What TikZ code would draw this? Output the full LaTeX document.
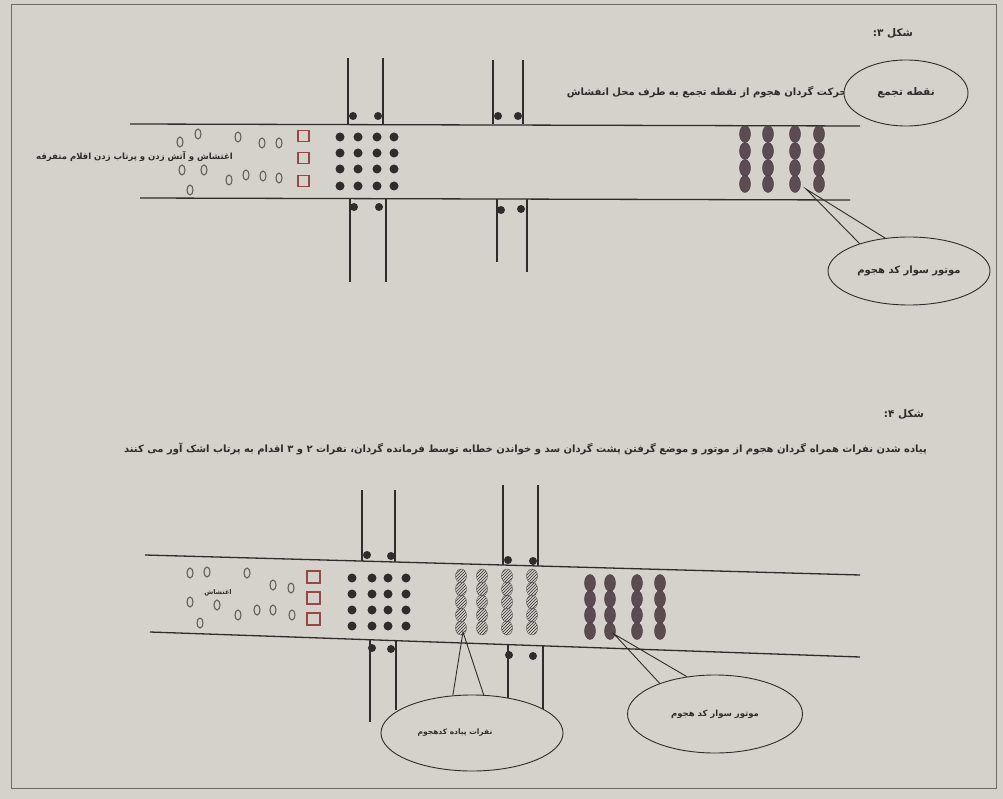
\documentclass[tikz,border=0pt]{standalone}
\usepackage{fontspec}
\newfontfamily\farsi[Script=Arabic]{DejaVu Sans}
\TeXXeTstate=1
\usetikzlibrary{shapes.geometric,patterns}

\definecolor{paper}{RGB}{212,210,202}
\definecolor{ink}{RGB}{48,44,44}
\definecolor{rider}{RGB}{92,76,82}
\definecolor{boxred}{RGB}{150,72,72}

\newcommand{\fa}[1]{{\farsi\bfseries\beginR #1\endR}}

\begin{document}
\begin{tikzpicture}[x=1pt,y=-1pt,
    road/.style={ink, line width=1.3pt},
    post/.style={ink, line width=1.2pt},
    blob/.style={fill=ink},
    rioter/.style={draw=ink!75, line width=1.1pt},
    riderb/.style={fill=rider, draw=rider!80!black},
    footb/.style={draw=ink!80, pattern=north east lines, pattern color=ink},
    redbox/.style={draw=boxred, line width=1.1pt},
    label/.style={inner sep=0pt, text=ink, font=\fontsize{10}{11}\selectfont},
    callout/.style={ellipse, draw=ink, line width=0.9pt, fill=paper, inner sep=0pt,
                    text=ink, font=\fontsize{8.5}{9}\selectfont}]
    % Page
    \fill[paper] (0,0) rectangle (1003,799);
    \draw[ink!70, line width=0.8pt] (11,4) rectangle (996,788);

    % ---------- Figure 3 ----------
    \node[label, font=\fontsize{10.5}{11}\selectfont] (title3) at (893,33) {\fa{شکل ۳:}};

    % Road
    \draw[road] (130,124) -- (860,126);
    \draw[road] (140,198) -- (850,200);

    % Cross posts
    \draw[post] (348,58) -- (348,124);
    \draw[post] (383,58) -- (383,124);
    \draw[post] (493,60) -- (493,124);
    \draw[post] (523,60) -- (523,124);
    \draw[post] (350,199) -- (350,282);
    \draw[post] (386,199) -- (386,282);
    \draw[post] (497,199) -- (497,262);
    \draw[post] (527,199) -- (527,272);
    \foreach \px/\py in {353/116, 378/116, 498/116, 518/116,
                         354/207, 379/207, 501/210, 521/209}
        \fill[blob] (\px,\py) circle (4);

    % Rioters
    \foreach \px/\py in {180/142, 198/134, 238/137, 262/143, 279/143, 182/170,
                         204/170, 229/180, 246/175, 263/176, 279/178, 190/190}
        \draw[rioter] (\px,\py) ellipse (3 and 5);
    \node[label, anchor=east, font=\fontsize{8.5}{9}\selectfont] (riot3) at (233,156)
        {\fa{اغتشاش و آتش زدن و پرتاب زدن اقلام متفرقه}};

    % Barrier boxes
    \foreach \py in {136,158,181}
        \draw[redbox] (298,\py-5.5) rectangle (309,\py+5.5);

    % Battalion on foot (black)
    \foreach \px in {340,358,377,394}
        \foreach \py in {137,153,169,186}
            \fill[blob] (\px,\py) circle (4.5);

    % Motorcyclists
    \foreach \px in {745,768,795,819}
        \foreach \py in {134,151,168,184}
            \filldraw[riderb] (\px,\py) ellipse (5.5 and 8.5);

    % Text and callouts
    \node[label, anchor=east] (move3) at (847,92)
        {\fa{حرکت گردان هجوم از نقطه تجمع به طرف محل انفشاش}};
    \node[callout, minimum width=124, minimum height=66, font=\fontsize{10.5}{11}\selectfont]
        (assembly) at (906,93) {\fa{نقطه تجمع}};
    \node[callout, minimum width=162, minimum height=68, font=\fontsize{10}{11}\selectfont]
        (riders3) at (909,271) {\fa{موتور سوار کد هجوم}};
    \coordinate (tip3) at (806,189);
    \draw[ink, line width=0.9pt] (riders3.151) -- (tip3) -- (riders3.126);

    % ---------- Figure 4 ----------
    \node[label, font=\fontsize{10.5}{11}\selectfont] (title4) at (904,414) {\fa{شکل ۴:}};
    \node[label, anchor=east] (move4) at (927,449)
        {\fa{پیاده شدن نفرات همراه گردان هجوم از موتور و موضع گرفتن پشت گردان سد و خواندن خطابه توسط فرمانده گردان، نفرات ۲ و ۳ اقدام به پرتاب اشک آور می کنند}};

    % Road
    \draw[road] (145,555) -- (860,575);
    \draw[road] (150,632) -- (860,657);

    % Cross posts
    \draw[post] (362,490) -- (362,561);
    \draw[post] (395,490) -- (395,562);
    \draw[post] (503,485) -- (503,565);
    \draw[post] (538,485) -- (538,566);
    \draw[post] (370,640) -- (370,722);
    \draw[post] (396,641) -- (396,710);
    \draw[post] (508,645) -- (508,702);
    \draw[post] (543,646) -- (543,714);
    \foreach \px/\py in {367/555, 391/556, 508/560, 533/561,
                         372/648, 391/649, 509/655, 533/656}
        \fill[blob] (\px,\py) circle (4);

    % Rioters
    \foreach \px/\py in {190/573, 207/572, 247/573, 273/585, 291/588, 190/602,
                         217/605, 238/615, 257/610, 273/610, 292/615, 200/623}
        \draw[rioter] (\px,\py) ellipse (3 and 5);
    \node[label, font=\fontsize{6.5}{7}\selectfont] (riot4) at (218,593) {\fa{اغتشاش}};

    % Barrier boxes
    \foreach \py in {577,598,619}
        \draw[redbox] (307,\py-6) rectangle (320,\py+6);

    % Battalion on foot (black)
    \foreach \px in {352,372,388,406}
        \foreach \py in {578,594,610,626}
            \fill[blob] (\px,\py) circle (4.5);

    % Dismounted men (hatched)
    \foreach \px in {461,482,507,532}
        \foreach \py in {576,589,602,615,628}
            \draw[footb] (\px,\py) ellipse (5.5 and 7);

    % Motorcyclists
    \foreach \px in {590,610,637,660}
        \foreach \py in {583,599,615,631}
            \filldraw[riderb] (\px,\py) ellipse (5.5 and 8.5);

    % Callouts
    \node[callout, minimum width=182, minimum height=76] (foot4) at (472,733) {};
    \node[label, font=\fontsize{7.5}{8}\selectfont] (foot4t) at (455,733)
        {\fa{نفرات پیاده کدهجوم}};
    \coordinate (tip4a) at (463,632);
    \draw[ink, line width=0.9pt] (foot4.117) -- (tip4a) -- (foot4.73);
    \node[callout, minimum width=175, minimum height=78] (riders4) at (715,714)
        {\fa{موتور سوار کد هجوم}};
    \coordinate (tip4b) at (614,634);
    \draw[ink, line width=0.9pt] (riders4.151) -- (tip4b) -- (riders4.127);
\end{tikzpicture}
\end{document}
